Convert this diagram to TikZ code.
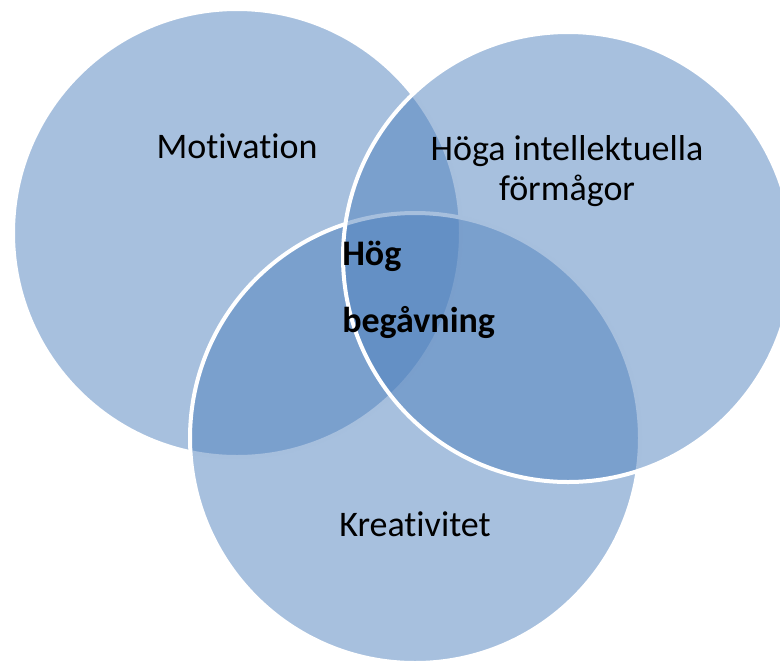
\documentclass[tikz,border=0pt]{standalone}
\usepackage{fontspec}
\setmainfont{Carlito}[Ligatures={NoCommon}]
\usepackage{xcolor}
\usepackage{tikz}
\usetikzlibrary{positioning}
\definecolor{vennblue}{HTML}{4F81BD}

\begin{document}
\begin{tikzpicture}[
    x=0.75pt, y=-0.75pt,
    nosep/.style={inner sep=0},
    venn/.style={
        circle, nosep,
        fill=vennblue, fill opacity=0.5,
        draw=white, draw opacity=1, line width=3pt},
    vennlabel/.style={nosep, text=black, text opacity=1, font=\fontsize{27}{30}\selectfont},
    core/.style={vennlabel, align=left, font=\fontsize{27}{50}\selectfont\bfseries}]
\useasboundingbox (0,0) rectangle (780,664);

\node[venn, minimum size=336pt]   (motiv) at (237,233) {};
\node[venn, minimum size=337.5pt] (kreat) at (415,438) {};
\node[venn, minimum size=337.5pt] (intel) at (568,257) {};

\node[vennlabel, anchor=base] (motivtext) at (237,158) {Motivation};
\node[vennlabel, anchor=base, align=center] (inteltext) at (567,200) {Höga intellektuella\\förmågor};
\node[vennlabel, anchor=base] (kreattext) at (415,536) {Kreativitet};
\node[core, anchor=base west] (coretext) at (342,332) {Hög\\begåvning};

\end{tikzpicture}
\end{document}
